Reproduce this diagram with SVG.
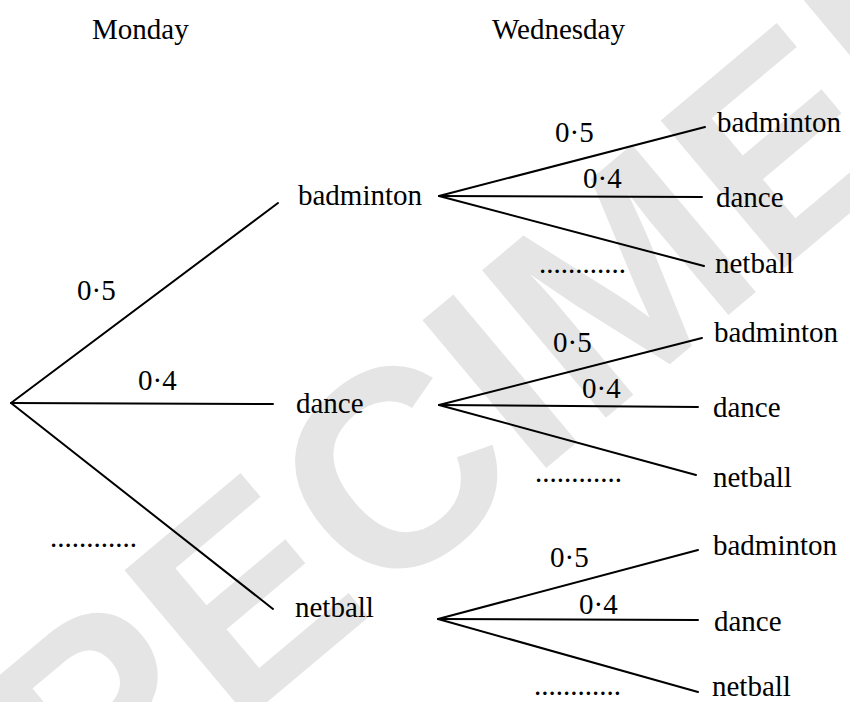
<svg xmlns="http://www.w3.org/2000/svg" width="850" height="702" viewBox="0 0 850 702">
<rect width="850" height="702" fill="#fff"/>
<g id="watermark"><text font-family="Liberation Sans" font-size="280" font-weight="bold" fill="#e5e5e5" x="508" y="500" text-anchor="middle" transform="rotate(-40 508 500)">SPECIMEN</text></g>
<g id="connectors" stroke="#000" stroke-width="2" stroke-linecap="round" fill="none">
<line x1="11" y1="403" x2="278" y2="203"/>
<line x1="11" y1="403" x2="273" y2="404"/>
<line x1="11" y1="403" x2="273" y2="609"/>
<line x1="439" y1="196" x2="705" y2="127"/>
<line x1="439" y1="196" x2="702" y2="197"/>
<line x1="439" y1="196" x2="704" y2="266"/>
<line x1="439" y1="405" x2="702" y2="338"/>
<line x1="439" y1="405" x2="698" y2="407"/>
<line x1="439" y1="405" x2="696" y2="475"/>
<line x1="438" y1="619" x2="698" y2="550"/>
<line x1="438" y1="619" x2="698" y2="620"/>
<line x1="438" y1="619" x2="698" y2="692"/>
</g>
<g id="headers">
<text style="font-family:'Liberation Serif'" font-size="29" x="92" y="39">Monday</text>
<text style="font-family:'Liberation Serif'" font-size="29" x="492" y="39">Wednesday</text>
</g>
<g id="edge-labels">
<text style="font-family:'Liberation Serif'" font-size="29" x="77" y="300">0·5</text>
<text style="font-family:'Liberation Serif'" font-size="29" x="138" y="390">0·4</text>
<text style="font-family:'Liberation Serif'" font-size="29" x="50" y="547">............</text>
<text style="font-family:'Liberation Serif'" font-size="29" x="555" y="142">0·5</text>
<text style="font-family:'Liberation Serif'" font-size="29" x="583" y="188">0·4</text>
<text style="font-family:'Liberation Serif'" font-size="29" x="539" y="273">............</text>
<text style="font-family:'Liberation Serif'" font-size="29" x="553" y="352">0·5</text>
<text style="font-family:'Liberation Serif'" font-size="29" x="582" y="398">0·4</text>
<text style="font-family:'Liberation Serif'" font-size="29" x="535" y="482">............</text>
<text style="font-family:'Liberation Serif'" font-size="29" x="550" y="567">0·5</text>
<text style="font-family:'Liberation Serif'" font-size="29" x="579" y="614">0·4</text>
<text style="font-family:'Liberation Serif'" font-size="29" x="534" y="695">............</text>
</g>
<g id="n-mon-badminton"><text style="font-family:'Liberation Serif'" font-size="29" x="298" y="205">badminton</text></g>
<g id="n-mon-dance"><text style="font-family:'Liberation Serif'" font-size="29" x="296" y="413">dance</text></g>
<g id="n-mon-netball"><text style="font-family:'Liberation Serif'" font-size="29" x="295" y="617">netball</text></g>
<g id="n-b-badminton"><text style="font-family:'Liberation Serif'" font-size="29" x="717" y="132">badminton</text></g>
<g id="n-b-dance"><text style="font-family:'Liberation Serif'" font-size="29" x="716" y="207">dance</text></g>
<g id="n-b-netball"><text style="font-family:'Liberation Serif'" font-size="29" x="715" y="273">netball</text></g>
<g id="n-d-badminton"><text style="font-family:'Liberation Serif'" font-size="29" x="714" y="342">badminton</text></g>
<g id="n-d-dance"><text style="font-family:'Liberation Serif'" font-size="29" x="713" y="417">dance</text></g>
<g id="n-d-netball"><text style="font-family:'Liberation Serif'" font-size="29" x="713" y="487">netball</text></g>
<g id="n-n-badminton"><text style="font-family:'Liberation Serif'" font-size="29" x="713" y="555">badminton</text></g>
<g id="n-n-dance"><text style="font-family:'Liberation Serif'" font-size="29" x="714" y="631">dance</text></g>
<g id="n-n-netball"><text style="font-family:'Liberation Serif'" font-size="29" x="712" y="696">netball</text></g>
</svg>
